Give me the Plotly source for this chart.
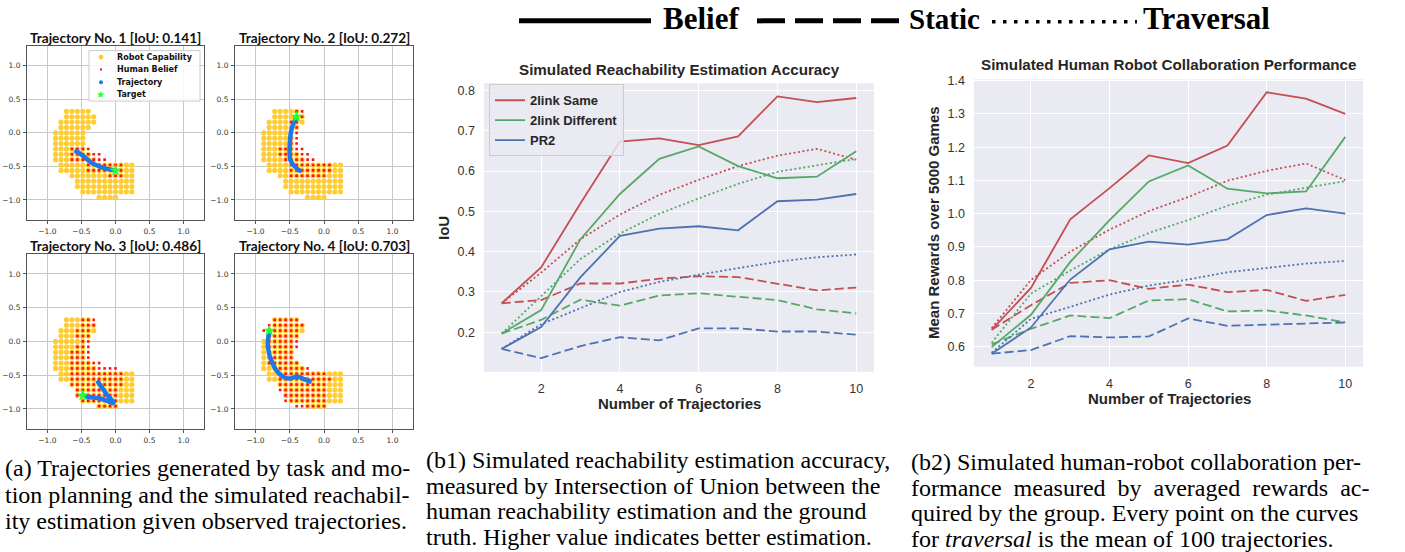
import plotly.graph_objects as go

W, H = 1405, 552

# ---------------- Panel (a) data ----------------
dot_step = 0.08
cap_row_y = [0.32, 0.24, 0.16, 0.08, 0.00, -0.08, -0.16, -0.24, -0.32, -0.40,
             -0.48, -0.56, -0.64, -0.72, -0.80, -0.88, -0.96]
cap_row_xmin = [-0.72, -0.72, -0.80, -0.80, -0.88, -0.88, -0.88, -0.88, -0.88, -0.88,
                -0.80, -0.80, -0.64, -0.56, -0.56, -0.48, -0.24]
cap_row_xmax = [-0.40, -0.32, -0.32, -0.40, -0.48, -0.48, -0.48, -0.48, -0.40, -0.32,
                0.24, 0.24, 0.24, 0.24, 0.24, 0.24, 0.00]

belief1_y = [-0.24, -0.32, -0.40, -0.48, -0.56, -0.64]
belief1_xmin = [-0.64, -0.64, -0.64, -0.40, -0.40, -0.08]
belief1_xmax = [-0.40, -0.24, -0.16, 0.08, 0.08, 0.08]

belief2_y = [0.32, 0.24, 0.16, 0.08, 0.00, -0.08, -0.16, -0.24, -0.32, -0.40, -0.48, -0.56, -0.64]
belief2_xmin = [-0.40, -0.40, -0.48, -0.48, -0.40, -0.48, -0.48, -0.64, -0.64, -0.56, -0.48, -0.48, -0.48]
belief2_xmax = [-0.32, -0.32, -0.40, -0.40, -0.40, -0.40, -0.40, -0.32, -0.24, -0.16, 0.08, 0.08, 0.00]

belief3_y = [0.32, 0.24, 0.16, 0.08, 0.00, -0.08, -0.16, -0.24, -0.32, -0.40,
             -0.48, -0.56, -0.64, -0.72, -0.80, -0.88, -0.96]
belief3_xmin = [-0.48, -0.48, -0.56, -0.56, -0.48, -0.56, -0.64, -0.64, -0.64, -0.64,
                -0.64, -0.64, -0.64, -0.56, -0.56, -0.48, -0.24]
belief3_xmax = [-0.32, -0.32, -0.40, -0.40, -0.40, -0.40, -0.40, -0.40, -0.24, 0.00,
                0.08, 0.08, 0.08, 0.00, 0.00, 0.00, 0.00]

belief4_y = [0.32, 0.24, 0.16, 0.08, 0.00, -0.08, -0.16, -0.24, -0.32, -0.40,
             -0.48, -0.56, -0.64, -0.72, -0.80, -0.88, -0.96]
belief4_xmin = [-0.72, -0.80, -0.88, -0.80, -0.80, -0.80, -0.80, -0.80, -0.80, -0.72,
                -0.64, -0.64, -0.64, -0.64, -0.56, -0.56, -0.40]
belief4_xmax = [-0.40, -0.32, -0.40, -0.40, -0.40, -0.40, -0.48, -0.48, -0.40, -0.24,
                0.00, 0.08, 0.00, 0.00, 0.00, 0.00, 0.00]

traj1_x = [-0.60, -0.48, -0.36, -0.19, 0.00]
traj1_y = [-0.26, -0.34, -0.44, -0.52, -0.56]
traj2_x = [-0.33, -0.42, -0.49, -0.50, -0.47, -0.40]
traj2_y = [-0.58, -0.51, -0.41, -0.17, 0.07, 0.24]
traj3_x = [-0.27, -0.14, -0.03, -0.21, -0.41, -0.48]
traj3_y = [-0.58, -0.77, -0.91, -0.85, -0.82, -0.80]
traj4_x = [-0.18, -0.29, -0.39, -0.51, -0.63, -0.75, -0.82, -0.80]
traj4_y = [-0.60, -0.56, -0.52, -0.55, -0.50, -0.33, -0.08, 0.15]

target_x = [0.00, -0.40, -0.48, -0.80]
target_y = [-0.56, 0.24, -0.80, 0.16]
traj_iou = ["0.141", "0.272", "0.486", "0.703"]

# ---------------- Panel (b) data ----------------
n_traj = [1, 2, 3, 4, 5, 6, 7, 8, 9, 10]
series_names = ["2link Same", "2link Different", "PR2"]

iou_belief_same = [0.272, 0.361, 0.520, 0.673, 0.681, 0.664, 0.686, 0.785, 0.771, 0.781]
iou_belief_diff = [0.197, 0.255, 0.431, 0.543, 0.630, 0.661, 0.612, 0.582, 0.586, 0.649]
iou_belief_pr2 = [0.159, 0.213, 0.337, 0.439, 0.457, 0.463, 0.453, 0.525, 0.529, 0.543]
iou_static_same = [0.272, 0.280, 0.321, 0.321, 0.333, 0.339, 0.337, 0.321, 0.304, 0.311]
iou_static_diff = [0.197, 0.231, 0.281, 0.266, 0.291, 0.297, 0.288, 0.280, 0.257, 0.247]
iou_static_pr2 = [0.159, 0.136, 0.166, 0.188, 0.180, 0.210, 0.210, 0.202, 0.202, 0.194]
iou_trav_same = [0.272, 0.348, 0.431, 0.492, 0.541, 0.578, 0.612, 0.638, 0.655, 0.628]
iou_trav_diff = [0.197, 0.290, 0.382, 0.445, 0.494, 0.532, 0.568, 0.598, 0.614, 0.630]
iou_trav_pr2 = [0.159, 0.220, 0.260, 0.300, 0.325, 0.343, 0.359, 0.375, 0.386, 0.393]

rew_belief_same = [0.651, 0.777, 0.983, 1.077, 1.175, 1.152, 1.205, 1.365, 1.346, 1.300]
rew_belief_diff = [0.599, 0.696, 0.855, 0.981, 1.097, 1.145, 1.075, 1.061, 1.067, 1.231]
rew_belief_pr2 = [0.579, 0.658, 0.802, 0.893, 0.916, 0.907, 0.923, 0.996, 1.016, 1.000]
rew_static_same = [0.651, 0.725, 0.792, 0.800, 0.774, 0.787, 0.764, 0.771, 0.738, 0.756]
rew_static_diff = [0.607, 0.654, 0.694, 0.686, 0.739, 0.743, 0.706, 0.709, 0.694, 0.673]
rew_static_pr2 = [0.579, 0.590, 0.632, 0.628, 0.631, 0.685, 0.663, 0.666, 0.671, 0.673]
rew_trav_same = [0.656, 0.801, 0.886, 0.952, 1.008, 1.050, 1.099, 1.129, 1.151, 1.101]
rew_trav_diff = [0.612, 0.760, 0.829, 0.893, 0.942, 0.981, 1.024, 1.057, 1.078, 1.098]
rew_trav_pr2 = [0.582, 0.684, 0.720, 0.757, 0.784, 0.802, 0.824, 0.837, 0.850, 0.858]

# ---------------- styles ----------------
C_RED, C_GREEN, C_BLUE = "#C44E52", "#55A868", "#4C72B0"
C_YEL, C_BEL, C_TRAJ, C_TGT = "#FFCC33", "#FF1010", "#1F78EA", "#22FF33"
DASH_STATIC = "9px,4px"
DASH_TRAV = "2px,2.5px"


def px2x(p):
    return p / W


def px2y(p):
    return 1 - p / H


def expand(rows_y, rows_xmin, rows_xmax):
    xs, ys = [], []
    for y, a, b in zip(rows_y, rows_xmin, rows_xmax):
        n = int(round((b - a) / dot_step))
        for k in range(n + 1):
            xs.append(round(a + k * dot_step, 3))
            ys.append(y)
    return xs, ys


fig = go.Figure()

cap_x, cap_y = expand(cap_row_y, cap_row_xmin, cap_row_xmax)
beliefs = [(belief1_y, belief1_xmin, belief1_xmax), (belief2_y, belief2_xmin, belief2_xmax),
           (belief3_y, belief3_xmin, belief3_xmax), (belief4_y, belief4_xmin, belief4_xmax)]
trajs = [(traj1_x, traj1_y), (traj2_x, traj2_y), (traj3_x, traj3_y), (traj4_x, traj4_y)]

for i in range(4):
    xa = "x" if i == 0 else f"x{i+1}"
    ya = "y" if i == 0 else f"y{i+1}"
    fig.add_trace(go.Scatter(x=cap_x, y=cap_y, mode="markers", xaxis=xa, yaxis=ya,
                             marker=dict(color=C_YEL, size=5.2, line=dict(width=0)),
                             showlegend=False, name="Robot Capability"))
    bx, by = expand(*beliefs[i])
    fig.add_trace(go.Scatter(x=bx, y=by, mode="markers", xaxis=xa, yaxis=ya,
                             marker=dict(color=C_BEL, size=2.6, symbol="square", line=dict(width=0)),
                             showlegend=False, name="Human Belief"))
    fig.add_trace(go.Scatter(x=trajs[i][0], y=trajs[i][1], mode="lines", xaxis=xa, yaxis=ya,
                             line=dict(color=C_TRAJ, width=4.5, shape="spline"),
                             showlegend=False, name="Trajectory"))
    fig.add_trace(go.Scatter(x=[target_x[i]], y=[target_y[i]], mode="markers", xaxis=xa, yaxis=ya,
                             marker=dict(color=C_TGT, size=9, symbol="star", line=dict(width=0)),
                             showlegend=False, name="Target"))

# ---- panel (b) traces ----
b1_sets = [(iou_belief_same, iou_static_same, iou_trav_same, C_RED),
           (iou_belief_diff, iou_static_diff, iou_trav_diff, C_GREEN),
           (iou_belief_pr2, iou_static_pr2, iou_trav_pr2, C_BLUE)]
b2_sets = [(rew_belief_same, rew_static_same, rew_trav_same, C_RED),
           (rew_belief_diff, rew_static_diff, rew_trav_diff, C_GREEN),
           (rew_belief_pr2, rew_static_pr2, rew_trav_pr2, C_BLUE)]

for xa, ya, sets, legend_on in [("x5", "y5", b1_sets, True), ("x6", "y6", b2_sets, False)]:
    for k, (bel, sta, tra, col) in enumerate(sets):
        fig.add_trace(go.Scatter(x=n_traj, y=tra, mode="lines", xaxis=xa, yaxis=ya,
                                 line=dict(color=col, width=1.8, dash=DASH_TRAV),
                                 showlegend=False, name=series_names[k] + " traversal"))
        fig.add_trace(go.Scatter(x=n_traj, y=sta, mode="lines", xaxis=xa, yaxis=ya,
                                 line=dict(color=col, width=1.8, dash=DASH_STATIC),
                                 showlegend=False, name=series_names[k] + " static"))
    for k, (bel, sta, tra, col) in enumerate(sets):
        fig.add_trace(go.Scatter(x=n_traj, y=bel, mode="lines", xaxis=xa, yaxis=ya,
                                 line=dict(color=col, width=1.8),
                                 showlegend=legend_on, name=series_names[k]))

# ---------------- axes ----------------
a_tickfont = dict(family="DejaVu Sans", size=7.5, color="#333333")


def a_axis(d0, d1):
    return dict(domain=[d0, d1], range=[-1.3, 1.3], tickvals=[-1, -0.5, 0, 0.5, 1],
                tickformat=".1f", showgrid=True, gridcolor="#c8c8c8", gridwidth=1,
                zeroline=False, showline=True, mirror=True, linecolor="#555555", linewidth=1,
                ticks="outside", ticklen=3, tickcolor="#555555", tickfont=a_tickfont,
                ticklabelstandoff=1)


def b_axis(d0, d1, rng, tv):
    return dict(domain=[d0, d1], range=rng, tickvals=tv, tickformat=".1f" if tv[0] < 2 else "d",
                showgrid=True, gridcolor="white", gridwidth=1.3, zeroline=False, showline=False,
                ticks="", ticklabelstandoff=8,
                tickfont=dict(family="Liberation Sans", size=12.5, color="#333333"))


a_boxes = [(27, 204, 41, 217), (235, 413, 41, 217), (27, 204, 251, 428), (235, 413, 251, 428)]
layout_axes = {}
for i, (l, r, t, b) in enumerate(a_boxes):
    xk = "xaxis" if i == 0 else f"xaxis{i+1}"
    yk = "yaxis" if i == 0 else f"yaxis{i+1}"
    ax = a_axis(px2x(l), px2x(r))
    ax["anchor"] = "y" if i == 0 else f"y{i+1}"
    ay = a_axis(px2y(b), px2y(t))
    ay["anchor"] = "x" if i == 0 else f"x{i+1}"
    layout_axes[xk] = ax
    layout_axes[yk] = ay

layout_axes["xaxis5"] = dict(b_axis(px2x(484), px2x(874), [0.55, 10.45], [2, 4, 6, 8, 10]), anchor="y5")
layout_axes["yaxis5"] = dict(b_axis(px2y(370), px2y(79), [0.1025, 0.8175],
                                    [0.2, 0.3, 0.4, 0.5, 0.6, 0.7, 0.8]), anchor="x5")
layout_axes["xaxis6"] = dict(b_axis(px2x(974), px2x(1363), [0.55, 10.45], [2, 4, 6, 8, 10]), anchor="y6")
layout_axes["yaxis6"] = dict(b_axis(px2y(365), px2y(75), [0.54, 1.404],
                                    [0.6, 0.7, 0.8, 0.9, 1.0, 1.1, 1.2, 1.3, 1.4]), anchor="x6")

shapes = []
for k in ["5", "6"]:
    shapes.append(dict(type="rect", xref=f"x{k} domain", yref=f"y{k} domain", x0=0, x1=1, y0=0, y1=1,
                       fillcolor="#EAEAF2", line=dict(width=0), layer="below"))

# header legend lines
shapes.append(dict(type="line", xref="paper", yref="paper", x0=px2x(519), x1=px2x(651),
                   y0=px2y(16), y1=px2y(16), line=dict(color="black", width=5)))
shapes.append(dict(type="line", xref="paper", yref="paper", x0=px2x(757), x1=px2x(899),
                   y0=px2y(16), y1=px2y(16), line=dict(color="black", width=5, dash="28px,10px")))
shapes.append(dict(type="line", xref="paper", yref="paper", x0=px2x(992), x1=px2x(1137),
                   y0=px2y(17), y1=px2y(17), line=dict(color="black", width=3.5, dash="3.5px,7.5px")))

# panel (a) manual legend box and glyphs
shapes.append(dict(type="rect", xref="paper", yref="paper", x0=px2x(89), x1=px2x(200),
                   y0=px2y(97), y1=px2y(46), fillcolor="rgba(255,255,255,0.85)",
                   line=dict(color="#cccccc", width=1)))


def circ(cx, cy, r, col):
    return dict(type="circle", xref="paper", yref="paper", x0=px2x(cx - r), x1=px2x(cx + r),
                y0=px2y(cy + r), y1=px2y(cy - r), fillcolor=col, line=dict(width=0))


shapes.append(circ(101, 52.5, 2.4, C_YEL))
shapes.append(dict(type="rect", xref="paper", yref="paper", x0=px2x(100), x1=px2x(102),
                   y0=px2y(66), y1=px2y(64), fillcolor=C_BEL, line=dict(width=0)))
shapes.append(circ(101, 78, 2.0, C_TRAJ))

annotations = []


def ann(text, x, y, size, family="Liberation Sans", color="#262626", xanchor="center",
        yanchor="middle", angle=0, pad=1):
    annotations.append(dict(text=text, x=px2x(x), y=px2y(y), xref="paper", yref="paper",
                            showarrow=False, xanchor=xanchor, yanchor=yanchor, textangle=angle,
                            borderpad=pad, font=dict(family=family, size=size, color=color)))


ann("★", 101, 90, 10, family="DejaVu Sans", color=C_TGT)
for txt, yy in [("Robot Capability", 52.5), ("Human Belief", 65), ("Trajectory", 78), ("Target", 90)]:
    ann("<b>" + txt + "</b>", 115, yy, 8, family="DejaVu Sans", color="#111111", xanchor="left")

# panel (a) titles
for i, (l, r, t, b) in enumerate(a_boxes):
    ann(f"<b>Trajectory No. {i+1} [IoU: {traj_iou[i]}]</b>", (l + r) / 2, t - 8, 13.6,
        family="Lato", color="#111111", pad=0)

# panel (b) titles / labels
ann("<b>Simulated Reachability Estimation Accuracy</b>", 679, 65, 15.2)
ann("<b>Number of Trajectories</b>", 679, 402, 15)
ann("<b>IoU</b>", 444, 225, 15, angle=-90)
ann("<b>Simulated Human Robot Collaboration Performance</b>", 1168.5, 60, 15.2)
ann("<b>Number of Trajectories</b>", 1169, 397, 15)
ann("<b>Mean Rewards over 5000 Games</b>", 933, 220, 15, angle=-90)

# header words
ann("<b>Belief</b>", 661, 14, 31, family="Liberation Serif", color="black", xanchor="left")
ann("<b>Static</b>", 907, 14, 29, family="Liberation Serif", color="black", xanchor="left")
ann("<b>Traversal</b>", 1141, 14, 31, family="Liberation Serif", color="black", xanchor="left")

# captions
cap_a = ["(a) Trajectories generated by task and mo-",
         "tion planning and the simulated reachabil-",
         "ity estimation given observed trajectories."]
cap_b1 = ["(b1) Simulated reachability estimation accuracy,",
          "measured by Intersection of Union between the",
          "human reachability estimation and the ground",
          "truth. Higher value indicates better estimation."]
cap_b2 = ["(b2) Simulated human-robot collaboration per-",
          "formance  measured  by  averaged  rewards  ac-",
          "quired by the group. Every point on the curves",
          "for <i>traversal</i> is the mean of 100 trajectories."]
for j, line in enumerate(cap_a):
    ann(line, 4, 467 + 27 * j, 24, family="Liberation Serif", color="black", xanchor="left", pad=0)
for j, line in enumerate(cap_b1):
    ann(line, 425, 459 + 26 * j, 24, family="Liberation Serif", color="black", xanchor="left", pad=0)
for j, line in enumerate(cap_b2):
    ann(line, 910, 461 + 26 * j, 24, family="Liberation Serif", color="black", xanchor="left", pad=0)

fig.update_layout(
    width=W, height=H, margin=dict(l=0, r=0, t=0, b=0),
    paper_bgcolor="white", plot_bgcolor="white",
    showlegend=True,
    legend=dict(x=px2x(489), y=px2y(80), xanchor="left", yanchor="top",
                bgcolor="rgba(234,234,242,0.85)", bordercolor="#cccccc", borderwidth=1,
                font=dict(family="Liberation Sans", size=13, color="#262626", weight="bold"),
                itemwidth=30, tracegroupgap=0),
    shapes=shapes, annotations=annotations,
    **layout_axes,
)

fig.write_html("out.html", config={"displayModeBar": False},
               post_script="document.body.style.margin='0';document.body.style.overflow='hidden';")
